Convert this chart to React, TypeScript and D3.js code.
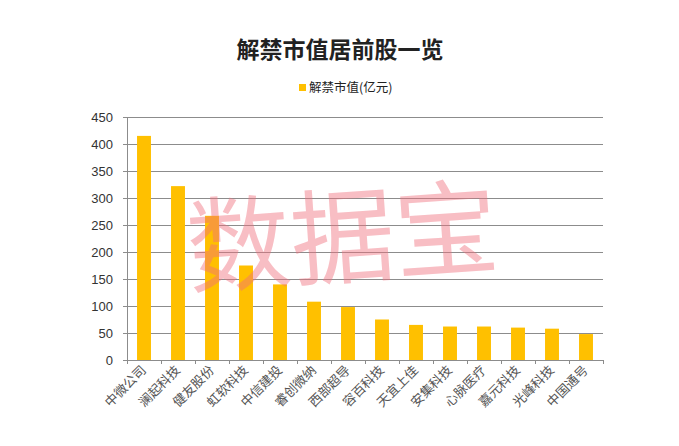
import React from "react";
import * as d3 from "d3";

const categories = ["中微公司", "澜起科技", "健友股份", "虹软科技", "中信建投", "睿创微纳", "西部超导", "容百科技", "天宜上佳", "安集科技", "心脉医疗", "嘉元科技", "光峰科技", "中国通号"];
const values = [415, 322, 267, 175, 140, 108, 98, 75, 65, 62, 62, 60, 58, 48];
const yTicks = [0, 50, 100, 150, 200, 250, 300, 350, 400, 450];
const title = "解禁市值居前股一览";
const legendLabel = "解禁市值(亿元)";
const watermark = "数据宝";

export default function App() {
  const W = 679, H = 446;
  const left = 127, right = 603, top = 117, bottom = 360;
  const x = d3.scaleBand().domain(categories).range([left, right]).paddingInner(0.59).paddingOuter(0.295);
  const xb = d3.scaleBand().domain(categories).range([left, right]);
  const y = d3.scaleLinear().domain([0, 450]).range([bottom, top]);
  const gridColor = "#8c8c8c";
  const sans = "'Liberation Sans', 'Noto Sans CJK SC', sans-serif";
  const cjk = "'Noto Sans CJK SC', sans-serif";
  return (
    <svg width={W} height={H} style={{ position: "absolute", left: 0, top: 0, background: "#fff" }}>
      <rect x={0} y={0} width={W} height={H} fill="#fff" />
      <text x={340} y={58} textAnchor="middle" fontFamily={cjk} fontWeight={700} fontSize={23} fill="#222">{title}</text>
      <rect x={299} y={84} width={7} height={7} fill="#FFC000" />
      <text x={309} y={92} fontFamily={cjk} fontSize={12.5} fill="#222">{legendLabel}</text>
      {yTicks.map((t) => (
        <g key={t}>
          <line x1={left - 4} x2={right} y1={Math.round(y(t)) + 0.5} y2={Math.round(y(t)) + 0.5} stroke={gridColor} strokeWidth={1} />
          <text x={113} y={y(t) + 4.5} textAnchor="end" fontFamily={sans} fontSize={13} fill="#333">{t}</text>
        </g>
      ))}
      <line x1={left + 0.5} x2={left + 0.5} y1={top} y2={bottom + 4} stroke={gridColor} />
      {categories.map((c, i) => (
        <rect key={c} x={x(c)} y={y(values[i])} width={x.bandwidth()} height={bottom - y(values[i])} fill="#FFC000" />
      ))}
      {categories.map((c) => (
        <line key={c + "t"} x1={Math.round((xb(c) as number) + xb.bandwidth()) + 0.5} x2={Math.round((xb(c) as number) + xb.bandwidth()) + 0.5} y1={bottom} y2={bottom + 4} stroke={gridColor} />
      ))}
      {categories.map((c) => {
        const cx = (xb(c) as number) + xb.bandwidth() / 2 + 3;
        const cy = bottom + 11;
        return (
          <text key={c + "l"} transform={`translate(${cx},${cy}) rotate(-45)`} textAnchor="end" fontFamily={cjk} fontSize={13} fill="#555">{c}</text>
        );
      })}
      <text transform="translate(345,275) rotate(-4)" textAnchor="middle" fontFamily={cjk} fontSize={104} fill="rgba(240,110,125,0.45)">{watermark}</text>
    </svg>
  );
}
